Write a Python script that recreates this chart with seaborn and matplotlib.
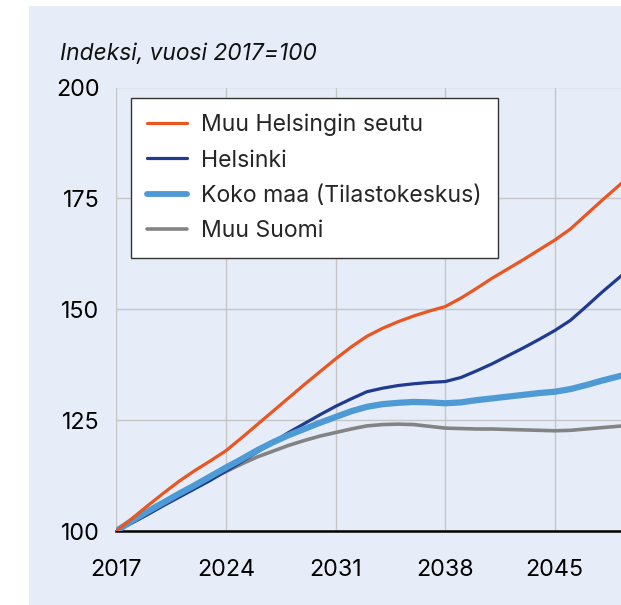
import numpy as np
import pandas as pd
import matplotlib
matplotlib.use("Agg")
import matplotlib.pyplot as plt
from matplotlib.patches import Rectangle
from matplotlib.lines import Line2D
import seaborn as sns

years = list(range(2017, 2051))
muu_helsingin_seutu = [100, 102.8, 105.7, 108.5, 111.2, 113.6, 115.8, 118.1, 121.0, 124.0,
                       127.0, 130.0, 133.0, 135.9, 138.8, 141.5, 143.9, 145.7, 147.2, 148.5,
                       149.6, 150.6, 152.5, 154.7, 157.0, 159.1, 161.2, 163.4, 165.6, 168.1,
                       171.3, 174.5, 177.6, 180.7]
helsinki = [100, 101.8, 103.7, 105.7, 107.6, 109.5, 111.4, 113.5, 115.6, 117.8,
            120.0, 122.2, 124.2, 126.2, 128.1, 129.8, 131.4, 132.2, 132.8, 133.2,
            133.5, 133.7, 134.6, 136.1, 137.7, 139.5, 141.3, 143.2, 145.2, 147.5,
            150.6, 153.8, 156.8, 159.8]
koko_maa = [100, 102.3, 104.4, 106.4, 108.4, 110.3, 112.3, 114.3, 116.2, 118.2,
            120.0, 121.6, 123.0, 124.4, 125.7, 127.0, 128.0, 128.6, 128.9, 129.1,
            129.0, 128.8, 129.0, 129.5, 129.9, 130.3, 130.7, 131.1, 131.4, 132.0,
            132.9, 133.9, 134.8, 135.7]
muu_suomi = [100, 102.2, 104.3, 106.3, 108.2, 110.0, 111.8, 113.4, 115.1, 116.7,
             118.0, 119.3, 120.4, 121.4, 122.2, 123.0, 123.7, 124.0, 124.1, 124.0,
             123.6, 123.2, 123.1, 123.0, 123.0, 122.9, 122.8, 122.7, 122.6, 122.7,
             123.0, 123.3, 123.6, 123.9]

series_names = ["Muu Helsingin seutu", "Helsinki", "Koko maa (Tilastokeskus)", "Muu Suomi"]
series_values = [muu_helsingin_seutu, helsinki, koko_maa, muu_suomi]
x_ticks = [2017, 2024, 2031, 2038, 2045]
y_ticks = [100, 125, 150, 175, 200]
title = "Indeksi, vuosi 2017=100"

colors = {"Muu Helsingin seutu": "#EA5520", "Helsinki": "#1F3A8E",
          "Koko maa (Tilastokeskus)": "#4E9AD5", "Muu Suomi": "#838383"}
widths = {"Muu Helsingin seutu": 2.3, "Helsinki": 2.3,
          "Koko maa (Tilastokeskus)": 4.5, "Muu Suomi": 2.6}
draw_order = ["Muu Suomi", "Helsinki", "Koko maa (Tilastokeskus)", "Muu Helsingin seutu"]

df = pd.DataFrame({
    "year": np.tile(years, len(series_names)),
    "value": np.concatenate(series_values),
    "series": np.repeat(series_names, len(years)),
})

sns.set_theme(style="white")
plt.rcParams["font.family"] = ["Inter", "DejaVu Sans"]

BG = "#E6EDF9"
W, H = 621, 605
fig = plt.figure(figsize=(W / 100, H / 100), dpi=100)
fig.patch.set_facecolor("white")
fig.patches.append(Rectangle((29 / W, 0), 1 - 29 / W, 1 - 6 / H, transform=fig.transFigure,
                             facecolor=BG, edgecolor="none", zorder=-10))

left = 116.3 / W
bottom = (H - 531) / H
top = (H - 87.5) / H
ax = fig.add_axes([left, bottom, 1 - left, top - bottom])
ax.set_facecolor(BG)

for i, name in enumerate(draw_order):
    sub = df[df["series"] == name]
    sns.lineplot(data=sub, x="year", y="value", ax=ax, color=colors[name],
                 linewidth=widths[name], zorder=3 + i, legend=False,
                 solid_capstyle="round")

ax.set_xlim(2017, 2017 + (W - 116.3) / 15.66)
ax.set_ylim(100, 200)
ax.set_xticks(x_ticks)
ax.set_yticks(y_ticks)
ax.set_xticklabels([str(t) for t in x_ticks])
ax.set_yticklabels([str(t) for t in y_ticks])
ax.set_xlabel("")
ax.set_ylabel("")
ax.grid(True, color="#C6C6C6", linewidth=1.0, zorder=0)
ax.set_axisbelow(True)
for s in ["left", "right", "top"]:
    ax.spines[s].set_visible(False)
ax.spines["bottom"].set_color("black")
ax.spines["bottom"].set_linewidth(1.8)
ax.spines["bottom"].set_zorder(2)
ax.tick_params(axis="x", length=12, width=1.0, color="#C6C6C6", pad=8,
               labelsize=16.8, labelcolor="black")
ax.tick_params(axis="y", length=0, pad=12, labelsize=16.8, labelcolor="black")

handles = [Line2D([0], [0], color=colors[n], linewidth=widths[n] if n != "Koko maa (Tilastokeskus)" else 4.2,
                  solid_capstyle="round") for n in series_names]
leg = ax.legend(handles, series_names, loc="upper left",
                bbox_to_anchor=(131 / W, 1 - 98 / H), bbox_transform=fig.transFigure,
                borderaxespad=0, frameon=True, fancybox=False, fontsize=16.6,
                handlelength=1.75, handletextpad=0.62, borderpad=0.68, labelspacing=0.58)
leg.get_frame().set_edgecolor("#333333")
leg.get_frame().set_linewidth(1.0)
leg.get_frame().set_facecolor("white")
leg.get_frame().set_alpha(1.0)
leg.set_zorder(10)

fig.text(60.5 / W, 1 - 59.5 / H, title, fontsize=16.4, style="italic",
         ha="left", va="baseline", color="#111111")

fig.savefig("out.png", dpi=100, facecolor=fig.get_facecolor())
